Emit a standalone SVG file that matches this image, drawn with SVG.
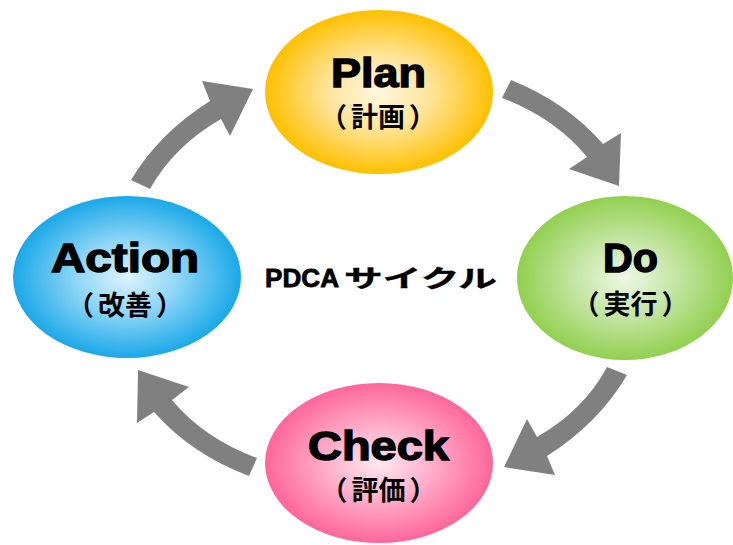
<svg xmlns="http://www.w3.org/2000/svg" width="733" height="545" viewBox="0 0 733 545">
<defs>
<radialGradient id="gPlan" cx="50%" cy="50%" r="50%"><stop offset="0" stop-color="#FFF8E0"/><stop offset="0.45" stop-color="#FFE49A"/><stop offset="1" stop-color="#FFC000"/></radialGradient>
<radialGradient id="gDo" cx="50%" cy="50%" r="50%"><stop offset="0" stop-color="#EEF8E6"/><stop offset="0.45" stop-color="#C6E6A6"/><stop offset="1" stop-color="#92D050"/></radialGradient>
<radialGradient id="gAct" cx="50%" cy="50%" r="50%"><stop offset="0" stop-color="#DDF4FD"/><stop offset="0.45" stop-color="#8ED6F6"/><stop offset="1" stop-color="#1AA8E8"/></radialGradient>
<radialGradient id="gChk" cx="50%" cy="50%" r="50%"><stop offset="0" stop-color="#FFE8F0"/><stop offset="0.45" stop-color="#FFB0CB"/><stop offset="1" stop-color="#FF6699"/></radialGradient>
</defs>
<style>
.t{font-family:"Liberation Sans",Arial,"Noto Sans CJK JP",sans-serif;font-weight:bold;font-size:40px;fill:#000;stroke:#000;stroke-width:1.4px;text-anchor:middle}
.j{font-family:"Noto Sans CJK JP",sans-serif;font-weight:bold;font-size:27px;fill:#000;text-anchor:middle}
.c{font-family:"Liberation Sans",Arial,"Noto Sans CJK JP",sans-serif;font-weight:bold;font-size:26px;fill:#000;stroke:#000;stroke-width:0.8px}
.k{font-family:"Noto Sans CJK JP",sans-serif;font-weight:bold;font-size:24px;fill:#000;stroke:#000;stroke-width:0.4px}
.ar{fill:#808080}
</style>
<rect width="733" height="545" fill="#fff"/>
<g id="connectors">
<path class="ar" d="M502,98 L511,80 Q567,102.5 603,144 L621,133 L619,186 L569,169 L587,157 Q554.7,118 502,98 Z"/>
<path class="ar" d="M607,367 L627,375 Q599,423 547,456 L555,475 L504,467 L527,419 L537,437 Q584,410 607,367 Z"/>
<path class="ar" d="M257,458 L249,476 Q191,454 154,412 L137,423 L138,370 L189,387 L172,400 Q204,438.5 257,458 Z"/>
<path class="ar" d="M131,180 L150,189 Q174,146 221,119 L230,136 L253,89 L202,81 L210,101 Q159,133 131,180 Z"/>
</g>
<g id="plan">
<ellipse cx="379" cy="92" rx="114" ry="82" fill="url(#gPlan)"/>
<text class="t" x="378.5" y="87" textLength="95" lengthAdjust="spacingAndGlyphs">Plan</text>
<text class="j" x="378" y="127">（<tspan dx="4">計画</tspan><tspan dx="4">）</tspan></text>
</g>
<g id="do">
<ellipse cx="625" cy="278" rx="108" ry="82" fill="url(#gDo)"/>
<text class="t" x="630.5" y="272" textLength="55" lengthAdjust="spacingAndGlyphs">Do</text>
<text class="j" x="630.5" y="314">（<tspan dx="4">実行</tspan><tspan dx="4">）</tspan></text>
</g>
<g id="action">
<ellipse cx="127" cy="277" rx="114" ry="81" fill="url(#gAct)"/>
<text class="t" x="125" y="272" textLength="148" lengthAdjust="spacingAndGlyphs">Action</text>
<text class="j" x="125" y="315">（<tspan dx="4">改善</tspan><tspan dx="4">）</tspan></text>
</g>
<g id="check">
<ellipse cx="379" cy="463" rx="114" ry="80" fill="url(#gChk)"/>
<text class="t" x="378.5" y="460" textLength="141" lengthAdjust="spacingAndGlyphs">Check</text>
<text class="j" x="378.5" y="500">（<tspan dx="4">評価</tspan><tspan dx="4">）</tspan></text>
</g>
<g id="title">
<text class="c" x="265" y="287" textLength="74" lengthAdjust="spacingAndGlyphs">PDCA</text>
<text class="k" x="344" y="287" textLength="153" lengthAdjust="spacingAndGlyphs">サイクル</text>
</g>
</svg>
